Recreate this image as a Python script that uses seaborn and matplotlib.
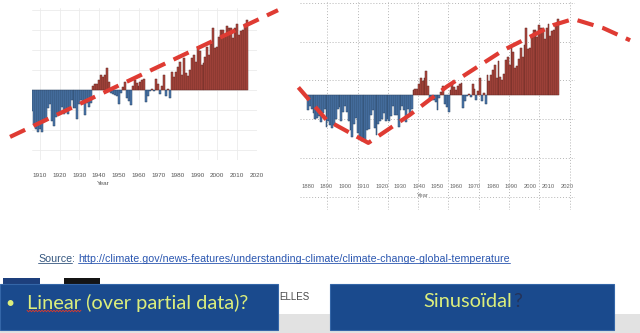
import numpy as np
import pandas as pd
import matplotlib
matplotlib.use("Agg")
import matplotlib.pyplot as plt
import seaborn as sns
from matplotlib.patches import Rectangle

# ---------------- data ----------------
years = list(range(1880, 2016))
anomaly = [
    -0.20, -0.14, -0.18, -0.24, -0.32, -0.30, -0.28, -0.36, -0.24, -0.18,
    -0.42, -0.34, -0.40, -0.44, -0.40, -0.32, -0.18, -0.16, -0.34, -0.22,
    -0.14, -0.22, -0.34, -0.46, -0.55, -0.38, -0.30, -0.50, -0.56, -0.60,
    -0.56, -0.60, -0.46, -0.45, -0.26, -0.20, -0.44, -0.52, -0.38, -0.34,
    -0.32, -0.24, -0.34, -0.32, -0.34, -0.27, -0.15, -0.26, -0.26, -0.42,
    -0.20, -0.14, -0.20, -0.36, -0.18, -0.24, -0.19, 0.06, 0.08, 0.08,
    0.14, 0.22, 0.18, 0.22, 0.31, 0.12, -0.04, -0.06, -0.07, -0.09,
    -0.20, -0.04, 0.04, 0.12, -0.12, -0.16, -0.22, 0.06, 0.14, 0.10,
    0.06, 0.12, 0.14, 0.16, -0.17, -0.08, -0.01, 0.01, -0.02, 0.15,
    0.08, -0.06, 0.05, 0.22, -0.08, 0.02, -0.12, 0.26, 0.18, 0.26,
    0.33, 0.40, 0.22, 0.45, 0.24, 0.20, 0.28, 0.46, 0.50, 0.40,
    0.62, 0.56, 0.36, 0.38, 0.47, 0.62, 0.50, 0.66, 0.88, 0.60,
    0.62, 0.76, 0.86, 0.86, 0.76, 0.92, 0.88, 0.88, 0.74, 0.88,
    0.94, 0.78, 0.84, 0.86, 0.94, 1.00,
]
left_start_year = 1906
left_ticks = list(range(1910, 2030, 10))
right_ticks = list(range(1880, 2030, 10))

linear_trend_years = [1894.8, 2030.8]
linear_trend_vals = [-0.67, 1.14]
sine_trend_years = [1874.8, 1890.1, 1912.6, 1935.1, 1955.0, 1985.6, 2012.6, 2023.4, 2039.6, 2054.1]
sine_trend_vals = [0.10, -0.33, -0.63, -0.26, 0.11, 0.59, 0.92, 1.00, 0.88, 0.72]

x_label = "Year"
source_label = "Source"
source_url = "http://climate.gov/news-features/understanding-climate/climate-change-global-temperature"
box1_text = "Linear (over partial data)?"
box2_text = "Sinusoïdal"
box2_mark = "?"
hidden_text = "ELLES"

# ---------------- setup ----------------
W, H = 640, 333
sns.set_theme(style="white")
plt.rcParams['font.family'] = ['Liberation Sans', 'DejaVu Sans']

fig = plt.figure(figsize=(6.4, 3.33), dpi=100)
fig.patch.set_facecolor('white')


def add_axes_px(x0, y0, x1, y1, **kw):
    return fig.add_axes([x0 / W, 1 - y1 / H, (x1 - x0) / W, (y1 - y0) / H], **kw)


df = pd.DataFrame({"year": years, "anomaly": anomaly})
df["sign"] = np.where(df["anomaly"] >= 0, "warm", "cool")
palette = {"warm": "#b04840", "cool": "#4c79af"}
dash_color = "#df3b33"


def draw_bars(ax, data):
    sns.barplot(data=data, x="year", y="anomaly", hue="sign", palette=palette,
                native_scale=True, dodge=False, width=1.0, errorbar=None,
                saturation=1, legend=False, ax=ax, linewidth=0.35, zorder=2)
    for p in ax.patches:
        fc = np.array(p.get_facecolor()[:3])
        p.set_edgecolor(fc * 0.55)
        c = p.get_x() + p.get_width() / 2
        p.set_x(c - 0.5)
        p.set_width(1.0)
    ax.set_ylabel("")
    for s in ax.spines.values():
        s.set_visible(False)


# ---------------- left chart ----------------
ax1 = add_axes_px(32, 8, 257, 160)
draw_bars(ax1, df[df["year"] >= left_start_year])
ax1.set_xlim(1905.94, 2020.15)
ax1.set_ylim(-1.0, 1.171)
ax1.set_xticks(left_ticks)
ax1.set_yticks(np.arange(-3, 5) * 2 / 7)
ax1.grid(True, color="#ebebeb", lw=0.6)
ax1.set_axisbelow(True)
ax1.tick_params(axis='y', left=False, labelleft=False)
ax1.tick_params(axis='x', length=0, pad=9, labelsize=4.6, labelcolor="#555555")
ax1.set_xlabel(x_label, fontsize=4.6, color="#555555")
ax1.xaxis.set_label_coords(0.316, -0.135)
ax1.plot(linear_trend_years, linear_trend_vals, color=dash_color, lw=3.0,
         dashes=(4, 2.2), clip_on=False, zorder=5, dash_capstyle='butt')

# ---------------- right chart ----------------
ax2 = add_axes_px(300, 0, 575, 210)
draw_bars(ax2, df)
ax2.set_xlim(1875.68, 2024.32)
ax2.set_ylim(-1.513, 1.25)
ax2.set_xticks(right_ticks)
ax2.set_xticks(np.arange(1890.4, 2024, 16.38), minor=True)
ax2.set_yticks(np.arange(-1.342, 1.25, 0.511))
ax2.grid(False)
ax2.grid(True, which='minor', axis='x', color="#b5b5b5", lw=0.7, ls=(0, (1, 2)))
ax2.grid(True, which='major', axis='y', color="#b5b5b5", lw=0.7, ls=(0, (1, 2)))
ax2.set_axisbelow(True)
ax2.tick_params(axis='y', left=False, labelleft=False)
ax2.tick_params(axis='x', which='both', length=0, pad=-18.4, labelsize=4.2, labelcolor="#666666")
ax2.set_xlabel(x_label, fontsize=4.2, color="#666666")
ax2.xaxis.set_label_coords(0.447, 0.083)
ax2.plot(sine_trend_years, sine_trend_vals, color=dash_color, lw=3.0,
         dashes=(4, 2.2), clip_on=False, zorder=5, dash_capstyle='butt')

# ---------------- overlay (slide elements) ----------------
ov = fig.add_axes([0, 0, 1, 1], zorder=10)
ov.set_xlim(0, W)
ov.set_ylim(H, 0)
ov.axis('off')
renderer = fig.canvas.get_renderer()


def wpx(t):
    return t.get_window_extent(renderer=renderer).width


# source line
src_font = ['Liberation Sans', 'DejaVu Sans']
tmp = ov.text(0, 0, source_label + ": " + source_url, fontsize=7, family=src_font)
fs_src = 7 * 465 / wpx(tmp)
tmp.remove()
x0, base = 38, 261.5
t_s = ov.text(x0, base, source_label, fontsize=fs_src, color="#34567f", family=src_font, va='baseline')
ws = wpx(t_s)
t_c = ov.text(x0 + ws, base, ":", fontsize=fs_src, color="#34567f", family=src_font, va='baseline')
wc = wpx(t_c)
space = fs_src * 0.278 * 100 / 72
xu = x0 + ws + wc + space
t_u = ov.text(xu, base, source_url, fontsize=fs_src, color="#2a56b0", family=src_font, va='baseline')
wu = wpx(t_u)
ov.plot([x0, x0 + ws], [base + 1.5, base + 1.5], color="#34567f", lw=0.6)
ov.plot([xu, xu + wu], [base + 1.5, base + 1.5], color="#2a56b0", lw=0.6)

# slide background pieces
ov.add_patch(Rectangle((0, 314), W, H - 314, facecolor="#e2e2e2", edgecolor="none", zorder=1))
ov.add_patch(Rectangle((3, 277.5), 37, 8, facecolor="#1d3f7c", edgecolor="none", zorder=2))
ov.add_patch(Rectangle((64, 277.5), 36, 8, facecolor="#141414", edgecolor="none", zorder=2))
ov.text(279, 300, hidden_text, fontsize=7, color="#4a4a4a", va='baseline', ha='left', zorder=2)

# blue boxes
box_fc, box_ec = "#1a4a8d", "#3466a8"
ov.add_patch(Rectangle((0, 284), 278, 46, facecolor=box_fc, edgecolor=box_ec, lw=0.8, zorder=3))
ov.add_patch(Rectangle((330, 284), 284, 46, facecolor=box_fc, edgecolor=box_ec, lw=0.8, zorder=3))

txt_color = "#dcee7c"
box_font = ['Lato', 'DejaVu Sans']
t1 = ov.text(27, 308.5, box1_text, fontsize=13, color=txt_color, family=box_font, va='baseline', zorder=4)
fs_box = 13 * 221 / wpx(t1)
t1.set_fontsize(fs_box)
ov.text(5, 307.5, "•", fontsize=fs_box * 0.8, color=txt_color, family=box_font, va='baseline', zorder=4)
tmp = ov.text(0, 0, "Linear", fontsize=fs_box, family=box_font)
wl = wpx(tmp)
tmp.remove()
xs = np.linspace(27, 27 + wl, int(wl / 1.5) + 1)
ys = 311 + 0.8 * np.where(np.arange(len(xs)) % 2 == 0, -1, 1)
ov.plot(xs, ys, color="#e03a2a", lw=0.6, zorder=5)

t2 = ov.text(423, 307, box2_text, fontsize=fs_box, color=txt_color, family=box_font, va='baseline', zorder=4)
w2 = wpx(t2)
ov.text(423 + w2 + 1, 307, box2_mark, fontsize=fs_box, color="#24335a", family=box_font, va='baseline', zorder=4)

fig.savefig("out.png", dpi=100)
